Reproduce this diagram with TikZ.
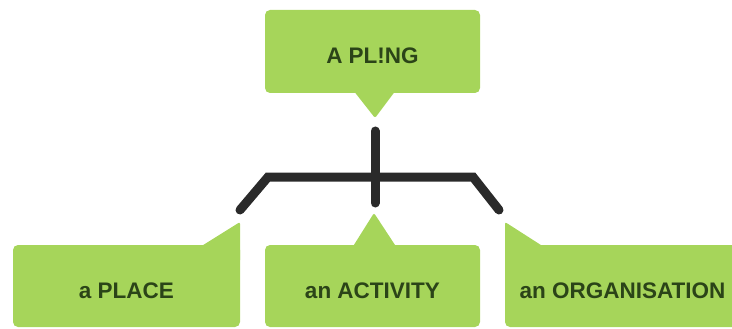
\documentclass[tikz,border=0pt]{standalone}
\usepackage{fontspec}
\setmainfont{Liberation Sans}
\definecolor{hijau}{HTML}{A6D55A}
\definecolor{teks}{HTML}{2B4418}
\definecolor{hitam}{HTML}{2A2A2A}
\begin{document}
\begin{tikzpicture}[x=1pt,y=-1pt,
      kotak/.style={fill=hijau,rounded corners=5pt,inner sep=0pt,text=teks,
        font=\fontsize{22.5}{27}\selectfont\bfseries,minimum height=82pt,
        text height=24pt,text depth=0pt},
      ujung/.style={fill=hijau,rounded corners=2pt},
      garis/.style={draw=hitam,line width=9pt,line cap=round,line join=miter}]

    \useasboundingbox (0,0) rectangle (732,329);

    % Kotak atas
    \node[kotak,minimum width=215pt,minimum height=83pt] (pling) at (372.5,51.5) {A PL!NG};
    \path[ujung] (353,90) -- (375,118) -- (396,90) -- cycle;

    % Kotak bawah
    \node[kotak,minimum width=227pt] (place) at (126.5,286) {a PLACE};
    \node[kotak,minimum width=215pt] (activity) at (372.5,286) {an ACTIVITY};
    \node[kotak,minimum width=235pt] (organisation) at (622.5,286) {an ORGANISATION};
    \path[ujung] (200,247) -- (240,222) -- (240,262) -- cycle;
    \path[ujung] (352,248) -- (374,213) -- (397,248) -- cycle;
    \path[ujung] (505,262) -- (505,222) -- (544,247) -- cycle;

    % Garis penghubung
    \coordinate (atas) at (375,131);
    \coordinate (tengah) at (375,203);
    \coordinate (kiri) at (268,177);
    \coordinate (kanan) at (473,177);
    \coordinate (ujungkiri) at (240,210);
    \coordinate (ujungkanan) at (499,210);
    \draw[garis] (atas) -- (tengah);
    \draw[garis] (ujungkiri) -- (kiri) -- (kanan) -- (ujungkanan);
  \end{tikzpicture}
\end{document}
